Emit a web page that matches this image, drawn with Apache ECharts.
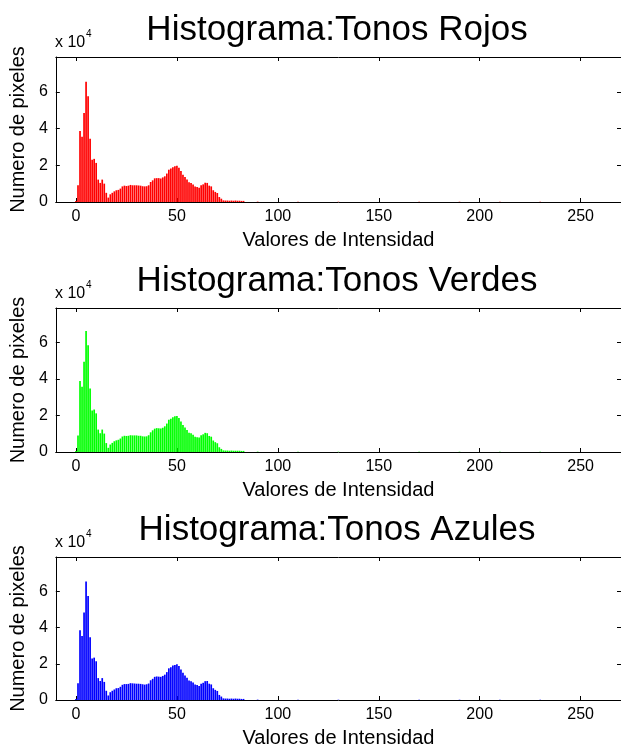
<!DOCTYPE html>
<html>
<head>
<meta charset="utf-8">
<script src="https://cdn.jsdelivr.net/npm/echarts@6/dist/echarts.min.js"></script>
<style>
  html, body { margin: 0; padding: 0; background: #fff; }
  #chart { width: 621px; height: 754px; }
</style>
</head>
<body>
<div id="chart"></div>
<script>
// Intensity bins that hold pixels (0-255 scale)
const intensidad = [
  0, 1, 2, 3, 4, 5, 6, 7, 8, 9, 10, 11, 12, 13, 14, 15, 16, 17, 18, 19,
  20, 21, 22, 23, 24, 25, 26, 27, 28, 29, 30, 31, 32, 33, 34, 35, 36, 37, 38, 39,
  40, 41, 42, 43, 44, 45, 46, 47, 48, 49, 50, 51, 52, 53, 54, 55, 56, 57, 58, 59,
  60, 61, 62, 63, 64, 65, 66, 67, 68, 69, 70, 71, 72, 73, 74, 75, 76, 77, 78, 79,
  80, 81, 82, 83, 90, 110, 130, 170, 190, 210, 230
];

// Pixel counts per bin, one array per channel
const rojos = [
  500, 9100, 38700, 35500, 48500, 65500, 57600, 34500, 23000, 23500, 21300, 12200, 10400, 12200, 10000, 5000, 2400, 4200, 5000, 5800,
  6400, 6600, 7300, 8500, 8900, 8700, 8900, 9300, 9100, 9100, 9100, 9000, 8900, 8600, 8500, 8600, 9100, 10900, 11800, 12900,
  13000, 13000, 12800, 13400, 14000, 15500, 17600, 18200, 19000, 19500, 19800, 18700, 16900, 14900, 13600, 12200, 10700, 10400, 9600, 8500,
  8200, 7800, 9100, 9600, 10500, 10400, 8900, 8500, 6400, 5500, 4900, 2700, 1800, 900, 800, 800, 700, 800, 700, 800,
  700, 700, 600, 600, 200, 200, 150, 150, 150, 150, 150
];
const verdes = [
  500, 9000, 39000, 35800, 49500, 66400, 58500, 34800, 22800, 23300, 21200, 12300, 10300, 12300, 10100, 4900, 2300, 4100, 5000, 5900,
  6400, 6700, 7400, 8500, 8900, 8800, 8900, 9200, 9100, 9100, 9100, 8900, 8900, 8600, 8500, 8600, 9200, 10800, 11900, 12800,
  13100, 13000, 12900, 13300, 14100, 15600, 17700, 18300, 19100, 19600, 19700, 18600, 16800, 14800, 13500, 12100, 10600, 10300, 9500, 8400,
  8100, 7900, 9200, 9700, 10500, 10300, 8800, 8400, 6300, 5400, 4800, 2600, 1700, 900, 800, 800, 700, 800, 700, 700,
  700, 700, 600, 600, 200, 200, 150, 150, 150, 150, 150
];
const azules = [
  500, 9200, 38500, 35400, 48300, 65400, 57500, 34600, 22900, 23400, 21400, 12100, 10500, 12100, 10000, 5100, 2500, 4300, 5100, 5800,
  6500, 6600, 7300, 8400, 8800, 8800, 8900, 9300, 9200, 9100, 9000, 9000, 8900, 8700, 8500, 8700, 9100, 10900, 11700, 12800,
  13000, 12900, 12800, 13300, 14000, 15400, 17500, 18100, 19100, 19400, 19800, 18800, 16900, 15000, 13600, 12300, 10800, 10400, 9700, 8600,
  8300, 7800, 9000, 9500, 10400, 10500, 9000, 8600, 6500, 5600, 5000, 2800, 1900, 900, 800, 800, 700, 800, 700, 800,
  700, 700, 600, 600, 200, 200, 150, 150, 150, 150, 150
];

const titulos = ['Histograma:Tonos Rojos', 'Histograma:Tonos Verdes', 'Histograma:Tonos Azules'];
const colores = ['#ff0000', '#00ff00', '#0000ff'];
const canales = [rojos, verdes, azules];
const xTicks = [0, 50, 100, 150, 200, 250];
const yTicks = [0, 20000, 40000, 60000];

const FONT = '"Liberation Sans", Arial, Helvetica, sans-serif';
const panelTop = [57, 308, 557];
const panelHeight = [145, 144, 143];
const GRID_LEFT = 55, GRID_WIDTH = 566;

const chart = echarts.init(document.getElementById('chart'), null, { renderer: 'canvas' });

const grid = [], xAxis = [], yAxis = [], series = [], graphic = [];
const black = { color: '#000', width: 1 };

canales.forEach((vals, i) => {
  grid.push({ left: GRID_LEFT, top: panelTop[i], width: GRID_WIDTH, height: panelHeight[i], containLabel: false });

  // bottom axis with labels and name
  xAxis.push({
    type: 'value', gridIndex: i, position: 'bottom', min: -10, max: 270,
    axisLine: { show: true, onZero: false, lineStyle: black },
    axisTick: { show: true, inside: true, length: 4, customValues: xTicks, lineStyle: black },
    axisLabel: { show: true, customValues: xTicks, color: '#000', fontSize: 16, fontFamily: FONT, margin: 7 },
    splitLine: { show: false },
    name: 'Valores de Intensidad', nameLocation: 'middle', nameGap: 28,
    nameTextStyle: { color: '#000', fontSize: 20, fontFamily: FONT }
  });
  // top box edge with mirrored ticks
  xAxis.push({
    type: 'value', gridIndex: i, position: 'top', min: -10, max: 270,
    axisLine: { show: true, onZero: false, lineStyle: black },
    axisTick: { show: true, inside: true, length: 4, customValues: xTicks, lineStyle: black },
    axisLabel: { show: false },
    splitLine: { show: false }
  });
  // left axis with labels in units of 10^4
  yAxis.push({
    type: 'value', gridIndex: i, position: 'left', min: 0, max: 79000,
    axisLine: { show: true, onZero: false, lineStyle: black },
    axisTick: { show: true, inside: true, length: 4, customValues: yTicks, lineStyle: black },
    axisLabel: {
      show: true, customValues: yTicks, color: '#000', fontSize: 16, fontFamily: FONT, margin: 8,
      formatter: v => String(v / 10000)
    },
    splitLine: { show: false },
    name: 'Numero de pixeles', nameLocation: 'middle', nameGap: 24, nameRotate: 90,
    nameTextStyle: { color: '#000', fontSize: 20, fontFamily: FONT }
  });
  // right box edge with mirrored ticks
  yAxis.push({
    type: 'value', gridIndex: i, position: 'right', min: 0, max: 79000,
    axisLine: { show: true, onZero: false, lineStyle: black },
    axisTick: { show: true, inside: true, length: 4, customValues: yTicks, lineStyle: black },
    axisLabel: { show: false },
    splitLine: { show: false }
  });

  series.push({
    type: 'bar', xAxisIndex: 2 * i, yAxisIndex: 2 * i,
    data: intensidad.map((x, k) => [x, vals[k]]),
    barWidth: 1.7,
    itemStyle: { color: colores[i] },
    silent: true
  });

  // panel title
  graphic.push({
    type: 'text', x: GRID_LEFT + GRID_WIDTH / 2 - 1, y: panelTop[i] - 27,
    style: { text: titulos[i], fill: '#000', font: '35px ' + FONT, textAlign: 'center', textVerticalAlign: 'middle' }
  });
  // exponent marker for the y axis
  graphic.push({
    type: 'text', x: GRID_LEFT, y: panelTop[i] - 14,
    style: { text: 'x 10', fill: '#000', font: '16px ' + FONT, textAlign: 'left', textVerticalAlign: 'middle' }
  });
  graphic.push({
    type: 'text', x: GRID_LEFT + 31, y: panelTop[i] - 23,
    style: { text: '4', fill: '#000', font: '10px ' + FONT, textAlign: 'left', textVerticalAlign: 'middle' }
  });
});

chart.setOption({
  animation: false,
  backgroundColor: '#fff',
  textStyle: { fontFamily: FONT },
  grid, xAxis, yAxis, series, graphic
});
</script>
</body>
</html>
